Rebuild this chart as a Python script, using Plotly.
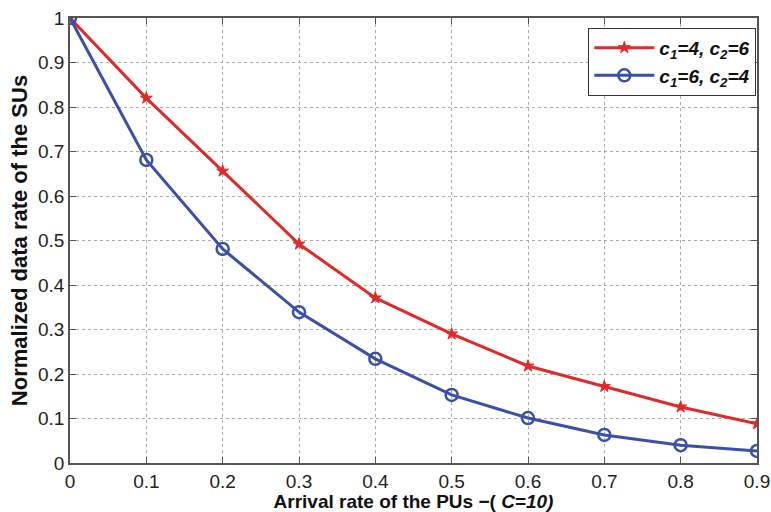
import plotly.graph_objects as go

x_vals = [0, 0.1, 0.2, 0.3, 0.4, 0.5, 0.6, 0.7, 0.8, 0.9]
red_vals = [1.0, 0.820, 0.656, 0.492, 0.371, 0.290, 0.218, 0.172, 0.126, 0.088]
blue_vals = [1.0, 0.681, 0.481, 0.339, 0.234, 0.153, 0.101, 0.063, 0.040, 0.027]
red_name = "<b><i>c<sub>1</sub>=4, c<sub>2</sub>=6</i></b>"
blue_name = "<b><i>c<sub>1</sub>=6, c<sub>2</sub>=4</i></b>"
x_ticks = [0, 0.1, 0.2, 0.3, 0.4, 0.5, 0.6, 0.7, 0.8, 0.9]
x_tick_text = ["0", "0.1", "0.2", "0.3", "0.4", "0.5", "0.6", "0.7", "0.8", "0.9"]
y_ticks = [0, 0.1, 0.2, 0.3, 0.4, 0.5, 0.6, 0.7, 0.8, 0.9, 1]
y_tick_text = ["0", "0.1", "0.2", "0.3", "0.4", "0.5", "0.6", "0.7", "0.8", "0.9", "1"]

RED = "#e02a2a"
BLUE = "#3a4fa8"
FONT = "Liberation Sans, Arial, sans-serif"

fig = go.Figure()
fig.add_trace(go.Scatter(
    x=x_vals, y=red_vals, mode="lines+markers", name=red_name,
    line=dict(color=RED, width=3),
    marker=dict(symbol="star", size=9, color=RED, line=dict(color=RED, width=1)),
))
fig.add_trace(go.Scatter(
    x=x_vals, y=blue_vals, mode="lines+markers", name=blue_name,
    line=dict(color=BLUE, width=3),
    marker=dict(symbol="circle-open", size=12, color=BLUE, line=dict(color=BLUE, width=2.5)),
))

axis_common = dict(
    showline=True, linecolor="#555555", linewidth=1.5, mirror="ticks",
    ticks="inside", ticklen=6, tickcolor="#555555",
    showgrid=True, gridcolor="#aaaaaa", griddash="dot", gridwidth=1,
    zeroline=False, automargin=False,
    tickfont=dict(family=FONT, size=19, color="#222222"),
)

fig.update_layout(
    width=771, height=512,
    margin=dict(l=70, r=14, t=18, b=49),
    paper_bgcolor="white", plot_bgcolor="white",
    font=dict(family=FONT, color="#111111"),
    xaxis=dict(range=[0, 0.9], tickvals=x_ticks, ticktext=x_tick_text,
               title=dict(text="<b>Arrival rate of the PUs −( <i>C=10)</i></b>",
                          font=dict(family=FONT, size=19), standoff=2),
               **axis_common),
    yaxis=dict(range=[0, 1], tickvals=y_ticks, ticktext=y_tick_text,
               title=dict(text="<b>Normalized data rate of the SUs</b>",
                          font=dict(family=FONT, size=22), standoff=4),
               **axis_common),
    legend=dict(x=0.999, y=0.978, xanchor="right", yanchor="top",
                bordercolor="#333333", borderwidth=1, bgcolor="white",
                font=dict(family=FONT, size=19, color="#111111"),
                tracegroupgap=8, itemwidth=60),
    showlegend=True,
)

fig.write_html("out.html")
